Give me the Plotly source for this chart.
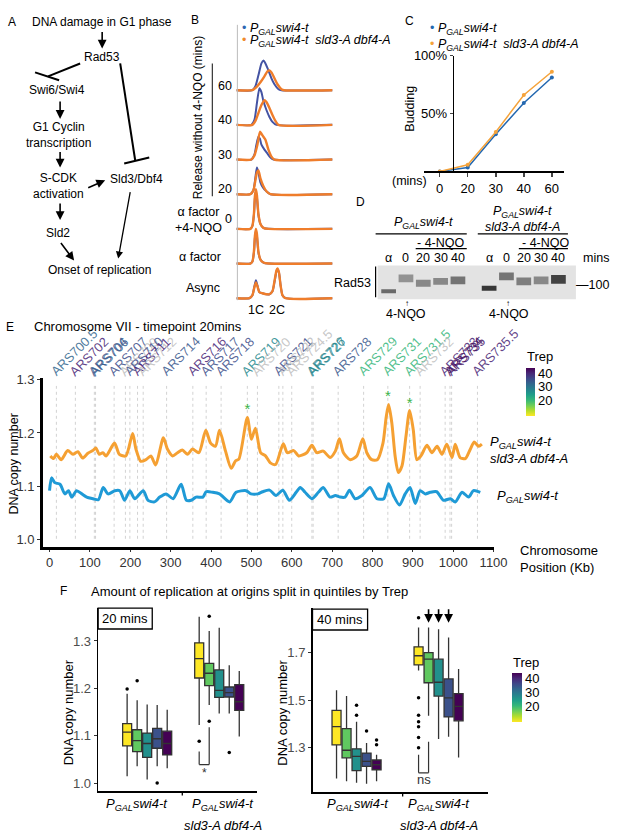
import plotly.graph_objects as go
from plotly.colors import sample_colorscale

W, H = 617, 840          # reference picture size (design coordinates)
WL = 632                 # layout width (page is photographed 632 wide, then fitted to 617)
SX = WL / W
FONT = "Liberation Sans, Arial, Helvetica, sans-serif"


def PX(x):
    return x / W


def PY(y):
    return 1 - y / H


# ======================= DATA =======================
b_rows = ["Async", "α factor", "0", "20", "30", "40", "60"]
b_blue_x = [
    [0, 13, 16, 18, 19.5, 21, 23, 26, 30, 33, 36, 38, 40, 41, 42.5, 44, 46, 49, 96],
    [0, 14, 16, 17.5, 18.5, 19.5, 20.5, 22, 24, 27, 32, 96],
    [0, 14, 16, 17.5, 18.5, 19.5, 20.5, 22, 24, 27, 32, 96],
    [0, 14, 17, 19, 20.5, 22, 24, 27, 30, 34, 96],
    [0, 15, 18, 20, 22, 23.5, 25, 28, 31, 34, 37, 96],
    [0, 15, 18, 20.5, 23, 25, 27, 30, 33, 36, 40, 96],
    [0, 16, 19, 22, 25, 27, 29, 32, 35, 38, 42, 45, 96],
]
b_blue_h = [
    [0, 0, 3, 12, 18, 13, 6, 5, 4, 4, 7, 16, 27, 29, 26, 14, 3, 0, 0],
    [0, 0, 2, 11, 26, 33, 28, 11, 4, 1, 0, 0],
    [0, 0, 3, 14, 31, 37, 32, 14, 5, 1, 0, 0],
    [0, 0, 4, 17, 27, 22, 12, 6, 3, 0, 0],
    [0, 0, 5, 15, 23, 21, 15, 10, 6, 2, 0, 0],
    [0, 0, 5, 22, 37, 33, 24, 15, 8, 3, 0, 0],
    [0, 0, 4, 15, 27, 30, 27, 20, 12, 6, 1, 0, 0],
]
b_orange_x = [
    [0, 13, 16, 18, 19.5, 21, 23, 26, 30, 33, 36, 38, 40, 41, 42.5, 44, 46, 49, 96],
    [0, 14, 16, 17.5, 18.5, 19.5, 20.5, 22, 24, 27, 32, 96],
    [0, 14, 16, 17.5, 18.5, 19.5, 20.5, 22, 24, 27, 32, 96],
    [0, 14, 17, 19, 20.5, 22, 24, 27, 30, 34, 96],
    [0, 15, 18, 21, 23.5, 25, 27, 29, 32, 35, 38, 96],
    [0, 16, 19, 22, 25, 28, 30, 33, 36, 39, 42, 96],
    [0, 16, 20, 24, 28, 31, 33, 35, 38, 41, 45, 48, 96],
]
b_orange_h = [
    [0, 0, 3, 11, 16, 12, 6, 5, 4, 4, 7, 17, 28, 30, 26, 14, 3, 0, 0],
    [0, 0, 2, 12, 28, 35, 30, 12, 4, 1, 0, 0],
    [0, 0, 3, 15, 33, 40, 34, 15, 5, 1, 0, 0],
    [0, 0, 4, 14, 22, 24, 16, 8, 3, 0, 0],
    [0, 0, 4, 15, 28, 26, 23, 20, 10, 3, 0, 0],
    [0, 0, 4, 12, 20, 25, 23, 17, 10, 4, 0, 0],
    [0, 0, 3, 8, 14, 19, 20, 18, 12, 6, 1, 0, 0],
]

c_times = ["0", "20", "30", "40", "60"]
c_blue = [0, 3.4, 32, 59, 81]
c_orange = [0, 5.7, 34, 66, 86]

d_lanes = ["α", "0", "20", "30", "40"]
d_band_y = [[287, 274, 279, 277, 276], [284, 272, 277, 276, 275]]
d_band_thick = [[4, 8, 7, 7, 8], [5, 8, 8, 8, 9]]
d_band_dark = [[0.6, 0.4, 0.45, 0.45, 0.55], [0.85, 0.55, 0.5, 0.45, 0.8]]

e_orange_kb = [2, 10, 17, 29, 45, 58, 70, 82, 95, 107, 115, 123, 132, 140, 161, 173, 189,
               206, 214, 226, 239, 251, 263, 282, 292, 305, 317, 329, 342, 354, 370, 387,
               399, 411, 421, 436, 450, 461, 469, 490, 500, 510, 523, 535, 547, 560, 579,
               589, 605, 617, 637, 650, 662, 678, 695, 708, 718, 728, 745, 761, 776, 786,
               798, 812, 826, 834, 840, 848, 856, 864, 873, 883, 892, 901, 910, 920, 935,
               947, 960, 972, 984, 997, 1005, 1017, 1030, 1042, 1052, 1063, 1071]
e_orange_val = [1.157, 1.152, 1.160, 1.150, 1.167, 1.160, 1.165, 1.153, 1.162, 1.167, 1.172,
                1.160, 1.163, 1.157, 1.181, 1.160, 1.157, 1.199, 1.170, 1.147, 1.150, 1.157,
                1.140, 1.191, 1.170, 1.157, 1.163, 1.168, 1.160, 1.170, 1.163, 1.205, 1.181,
                1.175, 1.205, 1.166, 1.134, 1.148, 1.151, 1.229, 1.188, 1.209, 1.163, 1.157,
                1.144, 1.141, 1.180, 1.163, 1.167, 1.157, 1.163, 1.177, 1.163, 1.166, 1.154,
                1.166, 1.189, 1.163, 1.150, 1.157, 1.189, 1.163, 1.150, 1.150, 1.181, 1.230,
                1.253, 1.218, 1.157, 1.126, 1.138, 1.194, 1.242, 1.206, 1.150, 1.157, 1.177,
                1.163, 1.175, 1.160, 1.179, 1.154, 1.179, 1.154, 1.152, 1.169, 1.183, 1.175,
                1.179]
e_blue_kb = [0, 5, 13, 26, 38, 47, 55, 67, 80, 92, 108, 121, 133, 145, 162, 174, 186, 199,
             211, 232, 244, 260, 273, 289, 306, 326, 339, 351, 363, 380, 388, 404, 421, 446,
             462, 487, 499, 516, 528, 545, 561, 578, 594, 611, 621, 633, 650, 666, 678, 695,
             708, 720, 732, 743, 757, 774, 794, 811, 828, 840, 852, 867, 881, 893, 906, 918,
             931, 943, 959, 976, 993, 1005, 1022, 1038, 1050, 1067]
e_blue_val = [1.092, 1.116, 1.107, 1.104, 1.086, 1.092, 1.080, 1.092, 1.086, 1.080, 1.077,
              1.075, 1.098, 1.086, 1.092, 1.092, 1.074, 1.092, 1.077, 1.092, 1.074, 1.071,
              1.080, 1.086, 1.077, 1.104, 1.074, 1.074, 1.080, 1.080, 1.090, 1.089, 1.086,
              1.071, 1.089, 1.092, 1.086, 1.086, 1.090, 1.093, 1.083, 1.093, 1.074, 1.089,
              1.098, 1.089, 1.077, 1.089, 1.098, 1.080, 1.083, 1.080, 1.080, 1.093, 1.077,
              1.083, 1.098, 1.077, 1.077, 1.105, 1.083, 1.065, 1.086, 1.098, 1.068, 1.092,
              1.086, 1.089, 1.090, 1.074, 1.077, 1.071, 1.089, 1.080, 1.092, 1.089]
e_origin_names = ["ARS700.5", "ARS702", "ARS704", "ARS706", "ARS707", "ARS709", "ARS710",
                  "ARS711", "ARS712", "ARS714", "ARS716", "ARS717", "ARS718", "ARS719",
                  "ARS720", "ARS721", "ARS722", "ARS724.5", "ARS726", "ARS727", "ARS728",
                  "ARS729", "ARS731", "ARS731.5", "ARS732", "ARS733", "ARS734", "ARS735",
                  "ARS735.5"]
e_origin_kb = [17, 64, 111, 114, 160, 188, 199, 218, 232, 290, 355, 388, 425, 490, 515, 568,
               578, 600, 650, 653, 715, 778, 838, 892, 918, 980, 992, 996, 1060]
e_origin_trep = [32, 40, 35, 33, 35, None, 35, 40, None, 34, 40, 35, 35, 27, None, 35, None,
                 None, 28, 27, 34, 20, 20, 20, None, 40, 42, 42, 40]
e_star_kb = [490, 838, 892]
e_star_val = [1.243, 1.266, 1.254]

f20_q1 = [[1.079, 1.067, 1.055, 1.074, 1.060], [1.222, 1.206, 1.181, 1.182, 1.154]]
f20_med = [[1.108, 1.090, 1.084, 1.094, 1.084], [1.263, 1.232, 1.196, 1.191, 1.172]]
f20_q3 = [[1.126, 1.113, 1.106, 1.116, 1.110], [1.296, 1.253, 1.239, 1.203, 1.208]]
f20_lo = [[1.015, 1.036, 1.008, 1.036, 1.032], [1.123, 1.165, 1.147, 1.147, 1.099]]
f20_hi = [[1.189, 1.175, 1.166, 1.165, 1.155], [1.351, 1.321, 1.328, 1.249, 1.237]]
f20_out_g = [0, 0, 0, 1, 1, 1, 1]
f20_out_q = [0, 1, 3, 0, 1, 1, 3]
f20_out_v = [1.199, 1.216, 1.001, 1.089, 1.352, 1.131, 1.065]

f40_q1 = [[1.3125, 1.258, 1.204, 1.222, 1.208], [1.649, 1.574, 1.518, 1.430, 1.414]]
f40_med = [[1.389, 1.290, 1.264, 1.243, 1.229], [1.6875, 1.673, 1.576, 1.510, 1.475]]
f40_q3 = [[1.458, 1.381, 1.296, 1.278, 1.249], [1.725, 1.701, 1.673, 1.590, 1.528]]
f40_lo = [[1.171, 1.160, 1.153, 1.149, 1.160], [1.625, 1.435, 1.3375, 1.347, 1.26]]
f40_hi = [[1.542, 1.518, 1.410, 1.320, 1.271], [1.806, 1.806, 1.799, 1.764, 1.632]]
f40_out_g = [0, 0, 0, 0, 0, 1, 1, 1, 1, 1, 1, 1]
f40_out_q = [2, 2, 3, 4, 4, 0, 0, 0, 0, 0, 0, 0]
f40_out_v = [1.479, 1.437, 1.371, 1.333, 1.313, 1.847, 1.511, 1.4375, 1.410, 1.389, 1.344, 1.301]

trep_ticks = [20, 30, 40]

# ======================= FIGURE =======================
fig = go.Figure()
anns = []
shapes = []


def ann(text, x, y, size=12, xa="center", ya="middle", color="black", angle=0, **kw):
    d = dict(text=text, x=x, y=y, xref=kw.pop("xref", "paper"), yref=kw.pop("yref", "paper"),
             showarrow=False, xanchor=xa, yanchor=ya, textangle=angle,
             font=dict(family=FONT, size=size, color=color))
    d.update(kw)
    anns.append(d)


def ptext(text, x, y, **kw):
    ann(text, PX(x), PY(y), **kw)


def arrow(x0, y0, x1, y1, width=1.6, size=1.1):
    anns.append(dict(text="", x=PX(x1), y=PY(y1), xref="paper", yref="paper",
                     ax=(x0 - x1) * SX, ay=y0 - y1, axref="pixel", ayref="pixel",
                     showarrow=True, arrowhead=2, arrowsize=size, arrowwidth=width,
                     arrowcolor="black"))


def pline(x0, y0, x1, y1, width=2, color="black", dash="solid"):
    shapes.append(dict(type="line", xref="paper", yref="paper", x0=PX(x0), y0=PY(y0),
                       x1=PX(x1), y1=PY(y1), line=dict(color=color, width=width, dash=dash)))


# ---------- Panel A ----------
ptext("A", 12, 15, size=12)
ptext("DNA damage in G1 phase", 30, 15, size=12, xa="left")
arrow(102, 24, 102, 42)
ptext("Rad53", 102, 50, size=12)
pline(80, 57, 48, 70, width=2)
pline(35, 66, 59, 74, width=2)
ptext("Swi6/Swi4", 57, 84, size=12)
arrow(60, 94, 60, 113)
ptext("G1 Cyclin<br>transcription", 58, 129, size=12)
arrow(60, 145, 60, 162)
ptext("S-CDK<br>activation", 58, 181, size=12)
arrow(60, 197, 60, 215)
ptext("Sld2", 58, 228, size=12)
arrow(60, 237, 74, 256)
ptext("Onset of replication", 99, 266, size=12)
pline(120, 57, 135, 155, width=2)
pline(124, 158, 149, 152, width=2)
ptext("Sld3/Dbf4", 108, 174, size=12, xa="left")
arrow(87, 183, 105, 175)
arrow(130, 186, 118, 254, width=1.3)

# ---------- Panel B ----------
blue_b, orange_b = "#4453a3", "#ef7d2b"
b_offsets = [6 + 35 * i for i in range(len(b_rows))]
for i in range(len(b_rows)):
    fig.add_trace(go.Scatter(x=b_blue_x[i], y=[b_offsets[i] + h for h in b_blue_h[i]],
                             mode="lines", line=dict(color=blue_b, width=2, shape="spline", smoothing=0.6),
                             xaxis="x", yaxis="y", showlegend=False, hoverinfo="skip"))
    fig.add_trace(go.Scatter(x=b_orange_x[i], y=[b_offsets[i] + h for h in b_orange_h[i]],
                             mode="lines", line=dict(color=orange_b, width=2.4, shape="spline", smoothing=0.6),
                             xaxis="x", yaxis="y", showlegend=False, hoverinfo="skip"))
ptext("B", 195, 13, size=12)
pline(237, 18, 237, 296, width=1, color="#bbbbbb")
ptext("<span style='color:#2f67b2'>•</span> <i>P<sub>GAL</sub>swi4-t</i>", 240, 22, size=12.5, xa="left")
ptext("<span style='color:#f08a2c'>•</span> <i>P<sub>GAL</sub>swi4-t  sld3-A dbf4-A</i>", 240, 34, size=12.5, xa="left")
ptext("Release without 4-NQO (mins)", 198, 112, size=12, angle=-90)
pline(212, 57, 212, 191, width=1.2, color="#333333")
for lab, yy in zip(["60", "40", "30", "20"], [80, 114, 149, 184]):
    ptext(lab, 225, yy, size=12.5)
ptext("0", 228, 214, size=12.5)
ptext("α factor<br>+4-NQO", 198, 215, size=12.5)
ptext("α factor", 200, 252, size=12.5)
ptext("Async", 203, 284, size=12.5)
ptext("1C", 256, 306, size=12.5)
ptext("2C", 277, 306, size=12.5)

# ---------- Panel C ----------
blue_c, orange_c = "#2468b0", "#f5a33b"
fig.add_trace(go.Scatter(x=list(range(len(c_times))), y=c_blue, mode="lines+markers",
                         line=dict(color=blue_c, width=1.5), marker=dict(size=4, color=blue_c),
                         xaxis="x2", yaxis="y2", showlegend=False, hoverinfo="skip"))
fig.add_trace(go.Scatter(x=list(range(len(c_times))), y=c_orange, mode="lines+markers",
                         line=dict(color=orange_c, width=1.5), marker=dict(size=4, color=orange_c),
                         xaxis="x2", yaxis="y2", showlegend=False, hoverinfo="skip"))
ptext("C", 409, 14, size=12)
ptext("<span style='color:#2468b0'>•</span> <i>P<sub>GAL</sub>swi4-t</i>", 427, 22, size=12.5, xa="left")
ptext("<span style='color:#f5a33b'>•</span> <i>P<sub>GAL</sub>swi4-t  sld3-A dbf4-A</i>", 427, 38, size=12.5, xa="left")
ptext("Budding", 409, 103, size=12.5, angle=-90)
ptext("(mins)", 428, 176, size=12.5, xa="right")

# ---------- Panel D ----------
lane_x = [[i + g * 5.8 for i in range(len(d_lanes))] for g in range(2)]
shapes.append(dict(type="rect", xref="x3 domain", yref="y3 domain", x0=0, x1=1, y0=0, y1=1,
                   fillcolor="#e3e3e3", line=dict(width=0), layer="below"))
for g in range(2):
    fig.add_trace(go.Bar(x=lane_x[g], y=d_band_thick[g],
                         base=[c - t / 2 for c, t in zip(d_band_y[g], d_band_thick[g])],
                         width=0.85, marker=dict(color=[f"rgba(25,25,25,{a})" for a in d_band_dark[g]],
                                                 line=dict(width=0)),
                         xaxis="x3", yaxis="y3", showlegend=False, hoverinfo="skip"))
    for i, lab in enumerate(d_lanes):
        ann(lab, lane_x[g][i], PY(253), size=12.5, xref="x3")
ptext("D", 360, 197, size=12)
ptext("<i>P<sub>GAL</sub>swi4-t</i>", 423, 218, size=12.5)
pline(375, 229, 466, 229, width=1.2)
ptext("- 4-NQO", 440, 238, size=12.5)
pline(415, 244, 466, 244, width=1.2)
ptext("<i>P<sub>GAL</sub>swi4-t</i>", 522, 207, size=12.5)
ptext("<i>sld3-A dbf4-A</i>", 522, 222, size=12.5)
pline(477, 229, 567, 229, width=1.2)
ptext("- 4-NQO", 545, 238, size=12.5)
pline(518, 244, 567, 244, width=1.2)
ptext("mins", 580, 253, size=12.5, xa="left")
ptext("Rad53", 372, 279, size=12.5, xa="right")
pline(375, 262, 375, 293, width=1.2)
ptext("—100", 573, 281, size=12.5, xa="left")
ptext("↑", 406, 299, size=8)
ptext("4-NQO", 405, 310, size=12.5)
ptext("↑", 507, 299, size=8)
ptext("4-NQO", 508, 310, size=12.5)

# ---------- Panel E ----------
dot_x, dot_y = [], []
for kb in e_origin_kb:
    dot_x += [kb, kb, None]
    dot_y += [1.002, 1.288, None]
fig.add_trace(go.Scatter(x=dot_x, y=dot_y, mode="lines", line=dict(color="#d2d2d2", width=1, dash="dot"),
                         xaxis="x4", yaxis="y4", showlegend=False, hoverinfo="skip"))
fig.add_trace(go.Scatter(x=e_orange_kb, y=e_orange_val, mode="lines",
                         line=dict(color="#f5a032", width=3, shape="spline", smoothing=0.7),
                         xaxis="x4", yaxis="y4", showlegend=False, hoverinfo="skip"))
fig.add_trace(go.Scatter(x=e_blue_kb, y=e_blue_val, mode="lines",
                         line=dict(color="#1f9ad6", width=3, shape="spline", smoothing=0.7),
                         xaxis="x4", yaxis="y4", showlegend=False, hoverinfo="skip"))
fig.add_trace(go.Scatter(x=e_star_kb, y=e_star_val, mode="text", text=["*"] * len(e_star_kb),
                         textfont=dict(family=FONT, size=15, color="#3db54a"),
                         xaxis="x4", yaxis="y4", showlegend=False, hoverinfo="skip"))
valid = [(k, t) for k, t in zip(e_origin_kb, e_origin_trep) if t is not None]
fig.add_trace(go.Scatter(x=[v[0] for v in valid], y=[1.29] * len(valid), mode="markers",
                         marker=dict(color=[v[1] for v in valid], coloraxis="coloraxis", size=2, opacity=0),
                         xaxis="x4", yaxis="y4", showlegend=False, hoverinfo="skip"))
CMIN, CMAX = 8, 43.6
LBL = 13


def label_len(s):
    w = 0
    for ch in s:
        if ch.isdigit():
            w += 0.556
        elif ch == ".":
            w += 0.278
        elif ch == "R":
            w += 0.722
        else:
            w += 0.667
    return w * LBL


for name, kb, tr in zip(e_origin_names, e_origin_kb, e_origin_trep):
    if tr is None:
        col = "rgba(185,185,185,0.8)"
    else:
        c = sample_colorscale("Viridis", [1 - (tr - CMIN) / (CMAX - CMIN)])[0]
        col = c.replace("rgb(", "rgba(").replace(")", ",0.85)")
    half = label_len(name) / 2 * 0.7071
    anns.append(dict(text=name, x=kb, y=PY(374), xref="x4", yref="paper", showarrow=False,
                     xanchor="center", yanchor="middle", textangle=-45,
                     xshift=(half - 3.5) * SX, yshift=half + 3.5,
                     font=dict(family=FONT, size=LBL, color=col)))
ptext("E", 10, 323, size=12)
ptext("Chromosome VII - timepoint 20mins", 32, 323, size=13, xa="left")
ptext("DNA copy number", 14, 462, size=12.5, angle=-90)
ptext("Chromosome<br>Position (Kb)", 517, 557, size=13, xa="left", align="left")
ptext("<i>P<sub>GAL</sub>swi4-t</i>", 487, 440, size=13, xa="left")
ptext("<i>sld3-A dbf4-A</i>", 487, 456, size=13, xa="left")
ptext("<i>P<sub>GAL</sub>swi4-t</i>", 494, 494, size=13, xa="left")
ptext("Trep", 524, 353, size=13, xa="left")

# ---------- Panel F ----------
quint_colors = sample_colorscale("Viridis", [1.0, 0.75, 0.5, 0.25, 0.0])
panels = [
    ("x5", "y5", 0.139, 0.125, f20_q1, f20_med, f20_q3, f20_lo, f20_hi, f20_out_g, f20_out_q, f20_out_v),
    ("x6", "y6", 0.122, 0.11, f40_q1, f40_med, f40_q3, f40_lo, f40_hi, f40_out_g, f40_out_q, f40_out_v),
]
for xa, ya, sp, bw, q1, med, q3, lo, hi, og, oq, ov in panels:
    for g in range(2):
        for q in range(5):
            pos = g + 1 + (q - 2) * sp
            fig.add_trace(go.Box(x=[pos], q1=[q1[g][q]], median=[med[g][q]], q3=[q3[g][q]],
                                 lowerfence=[lo[g][q]], upperfence=[hi[g][q]], width=bw,
                                 fillcolor=quint_colors[q], line=dict(color="#333333", width=1.3),
                                 whiskerwidth=0, boxpoints=False, orientation="v",
                                 xaxis=xa, yaxis=ya, showlegend=False, hoverinfo="skip"))
    fig.add_trace(go.Scatter(x=[g + 1 + (q - 2) * sp for g, q in zip(og, oq)], y=ov, mode="markers",
                             marker=dict(color="black", size=3.5), xaxis=xa, yaxis=ya,
                             showlegend=False, hoverinfo="skip"))

fig.add_trace(go.Scatter(x=[1.5, 1.5, 1.5], y=[1.5, 1.5, 1.5], mode="markers",
                         marker=dict(color=trep_ticks, coloraxis="coloraxis2", size=2, opacity=0),
                         xaxis="x6", yaxis="y6", showlegend=False, hoverinfo="skip"))

ptext("F", 63, 590, size=12)
ptext("Amount of replication at origins split in quintiles by Trep", 89, 590, size=13, xa="left")
shapes.append(dict(type="rect", xref="paper", yref="paper", x0=PX(98), x1=PX(152), y0=PY(628), y1=PY(607),
                   line=dict(color="black", width=1.3), fillcolor="white"))
ptext("20 mins", 125, 617, size=13)
shapes.append(dict(type="rect", xref="paper", yref="paper", x0=PX(312), x1=PX(367), y0=PY(629), y1=PY(608),
                   line=dict(color="black", width=1.3), fillcolor="white"))
ptext("40 mins", 339, 618, size=13)
ptext("DNA copy number", 68, 712, size=13, angle=-90)
ptext("DNA copy number", 282, 712, size=13, angle=-90)
for cx in [137, 223, 357, 438]:
    ptext("<i>P<sub>GAL</sub>swi4-t</i>", cx, 805, size=13)
for cx in [223, 438]:
    ptext("<i>sld3-A dbf4-A</i>", cx, 826, size=13)
ptext("Trep", 510, 662, size=13, xa="left")
pline(182, 792, 182, 796, width=1.3)
pline(402, 793, 402, 797, width=1.3)

sp5, sp6 = 0.139, 0.122
xq0, xq1 = 2 - 2 * sp5, 2 - sp5
for x0_, y0_, x1_, y1_ in [(xq0, 1.067, xq0, 1.0396), (xq0, 1.0396, xq1, 1.0396), (xq1, 1.0396, xq1, 1.118)]:
    shapes.append(dict(type="line", xref="x5", yref="y5", x0=x0_, y0=y0_, x1=x1_, y1=y1_,
                       line=dict(color="#333333", width=1.2)))
ann("*", (xq0 + xq1) / 2, 1.022, size=12, xref="x5", yref="y5", color="#333333")
xr0, xr1 = 2 - 2 * sp6, 2 - sp6
for x0_, y0_, x1_, y1_ in [(xr0, 1.271, xr0, 1.195), (xr0, 1.195, xr1, 1.195), (xr1, 1.195, xr1, 1.326)]:
    shapes.append(dict(type="line", xref="x6", yref="y6", x0=x0_, y0=y0_, x1=x1_, y1=y1_,
                       line=dict(color="#333333", width=1.2)))
ann("ns", (xr0 + xr1) / 2, 1.167, size=13, xref="x6", yref="y6", color="#333333")
for q in [1, 2, 3]:
    anns.append(dict(text="", x=2 + (q - 2) * sp6, y=1.826, xref="x6", yref="y6", ax=0, ay=-15,
                     axref="pixel", ayref="pixel", showarrow=True, arrowhead=2, arrowsize=1.1,
                     arrowwidth=1.6, arrowcolor="black"))

# ======================= LAYOUT =======================
hidden = dict(visible=False, fixedrange=True)
tick_gray = dict(family=FONT, size=13, color="#4d4d4d")


def cbar(x, yc, length, thick):
    return dict(x=PX(x), xanchor="left", y=PY(yc), yanchor="middle", lenmode="pixels", len=length,
                thicknessmode="pixels", thickness=thick * SX, outlinewidth=0, xpad=0, ypad=0,
                tickvals=trep_ticks, ticks="", ticklabelposition="outside",
                tickfont=dict(family=FONT, size=13, color="black"))


fig.update_layout(
    width=WL, height=H, autosize=False, margin=dict(l=0, r=0, t=0, b=0),
    paper_bgcolor="white", plot_bgcolor="rgba(0,0,0,0)",
    font=dict(family=FONT, size=12, color="black"),
    showlegend=False, barmode="overlay",
    xaxis=dict(domain=[PX(236), PX(332)], range=[0, 96], **hidden),
    yaxis=dict(domain=[PY(300), PY(40)], range=[0, 260], **hidden),
    xaxis2=dict(domain=[PX(423), PX(563)], range=[-0.571, 4.43], anchor="y2",
                tickvals=list(range(len(c_times))), ticktext=c_times, showline=True,
                linecolor="black", linewidth=1.5, ticks="outside", ticklen=4, tickwidth=1.5,
                tickfont=dict(family=FONT, size=13, color="black"), showgrid=False, zeroline=False),
    yaxis2=dict(domain=[PY(166), PY(49)], range=[0, 100], anchor="free", position=PX(452),
                tickvals=[50, 100], ticktext=["50%", "100%"], showline=True, linecolor="black",
                linewidth=1.5, ticks="outside", ticklen=3, tickwidth=1.5,
                tickfont=dict(family=FONT, size=13, color="black"), showgrid=False, zeroline=False),
    xaxis3=dict(domain=[PX(377), PX(575)], range=[-0.636, 10.81], anchor="y3", **hidden),
    yaxis3=dict(domain=[PY(295), PY(261)], range=[295, 261], anchor="x3", **hidden),
    xaxis4=dict(domain=[PX(43), PX(493)], range=[-16, 1100.5], anchor="y4",
                tickvals=list(range(0, 1101, 100)), showline=True, linecolor="black", linewidth=3,
                ticks="outside", ticklen=2, tickwidth=1, tickcolor="#333333",
                tickfont=dict(family=FONT, size=13, color="#333333"), showgrid=False, zeroline=False),
    yaxis4=dict(domain=[PY(545), PY(375)], range=[0.987, 1.302], anchor="x4",
                tickvals=[1.0, 1.1, 1.2, 1.3], tickformat=".1f", showline=True, linecolor="black",
                linewidth=3, ticks="outside", ticklen=3, tickwidth=1, tickcolor="#333333",
                tickfont=dict(family=FONT, size=13, color="#333333"), showgrid=False, zeroline=False),
    xaxis5=dict(domain=[PX(98), PX(257)], range=[0.32, 2.53], anchor="y5", showline=True,
                linecolor="black", linewidth=1.5, showticklabels=False, ticks="", showgrid=False,
                zeroline=False),
    yaxis5=dict(domain=[PY(792), PY(607)], range=[0.983, 1.369], anchor="x5",
                tickvals=[1.0, 1.1, 1.2, 1.3], tickformat=".1f", showline=True, linecolor="black",
                linewidth=1.5, ticks="outside", ticklen=3, tickcolor="#333333", tickfont=tick_gray,
                showgrid=False, zeroline=False),
    xaxis6=dict(domain=[PX(312), PX(487)], range=[0.463, 2.6], anchor="y6", showline=True,
                linecolor="black", linewidth=1.5, showticklabels=False, ticks="", showgrid=False,
                zeroline=False),
    yaxis6=dict(domain=[PY(793), PY(607)], range=[1.1125, 1.8875], anchor="x6",
                tickvals=[1.3, 1.5, 1.7], tickformat=".1f", showline=True, linecolor="black",
                linewidth=1.5, ticks="outside", ticklen=3, tickcolor="#333333", tickfont=tick_gray,
                showgrid=False, zeroline=False),
    coloraxis=dict(colorscale="Viridis", reversescale=True, cmin=CMIN, cmax=CMAX,
                   colorbar=cbar(525, 389, 48, 9)),
    coloraxis2=dict(colorscale="Viridis", reversescale=True, cmin=8.6, cmax=43.6,
                    colorbar=cbar(511, 697.5, 49, 10)),
    annotations=anns,
    shapes=shapes,
)

fig.write_html(
    "out.html",
    config={"displayModeBar": False, "staticPlot": True},
    post_script=("document.documentElement.style.overflow='hidden';"
                 "document.body.style.margin='0px';document.body.style.overflow='hidden';"),
)
